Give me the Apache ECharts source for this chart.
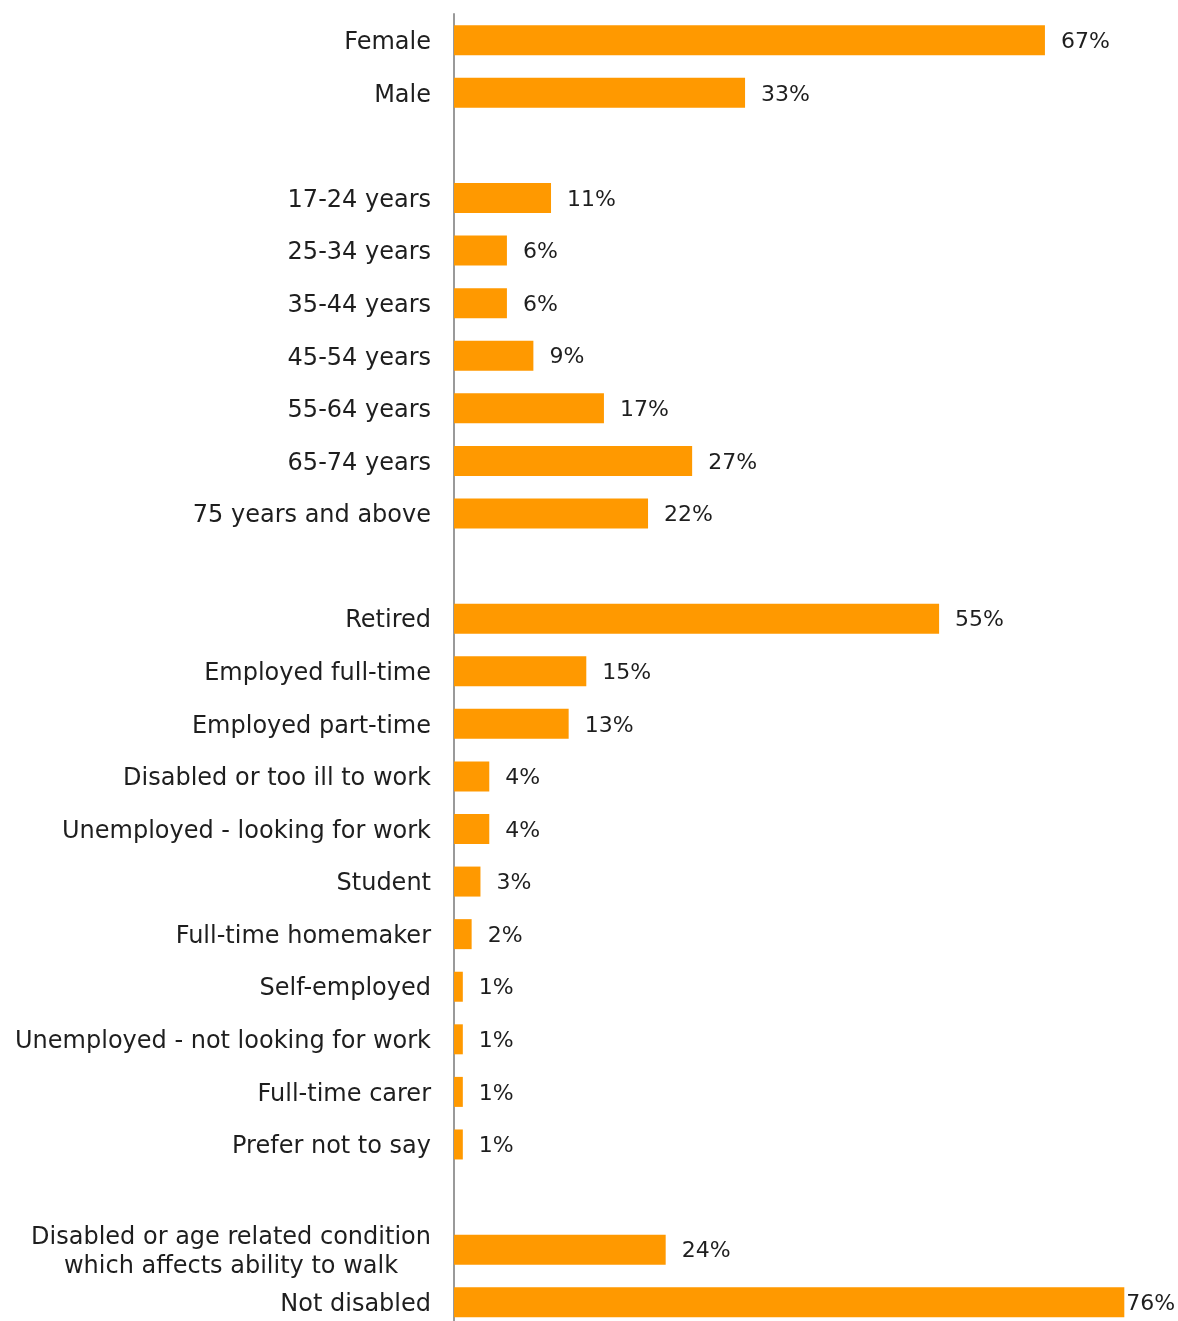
<!DOCTYPE html>
<html>
<head>
<meta charset="utf-8">
<title>Respondent profile</title>
<script src="https://cdn.jsdelivr.net/npm/echarts@6/dist/echarts.min.js"></script>
<style>
  html, body { margin: 0; padding: 0; background: #fff; overflow: hidden; }
  #chart { width: 1178px; height: 1332px; }
</style>
</head>
<body>
<div id="chart"></div>
<script>
// Profile groups; empty strings are spacer rows between the groups
const categories = [
  'Female', 'Male',
  '',
  '17-24 years', '25-34 years', '35-44 years', '45-54 years', '55-64 years', '65-74 years', '75 years and above',
  '',
  'Retired', 'Employed full-time', 'Employed part-time', 'Disabled or too ill to work',
  'Unemployed - looking for work', 'Student', 'Full-time homemaker', 'Self-employed',
  'Unemployed - not looking for work', 'Full-time carer', 'Prefer not to say',
  '',
  'Disabled or age related condition\nwhich affects ability to walk', 'Not disabled'
];

// Share of respondents, percent
const percentages = [
  67, 33,
  null,
  11, 6, 6, 9, 17, 27, 22,
  null,
  55, 15, 13, 4, 4, 3, 2, 1, 1, 1, 1,
  null,
  24, 76
];

const FONT = '"DejaVu Sans", Verdana, sans-serif';
const LABEL_SIZE = 24;
const VALUE_SIZE = 22;

// width of the longest line of a wrapped label, so its lines can be centred in one box
function textWidth(str, size) {
  const ctx = document.createElement('canvas').getContext('2d');
  ctx.font = size + 'px ' + FONT;
  return Math.ceil(ctx.measureText(str).width);
}
const wrapWidth = Math.max(...categories
  .filter(c => c.includes('\n'))
  .flatMap(c => c.split('\n'))
  .map(l => textWidth(l, LABEL_SIZE)), 1);

const maxValue = Math.max(...percentages.filter(p => p !== null));
const barData = percentages.map(v => {
  if (v === null) return null;
  // the widest bar reaches the edge, so its label hugs the bar end
  if (v === maxValue) return { value: v, label: { distance: 2 } };
  return v;
});

const chart = echarts.init(document.getElementById('chart'), null, { renderer: 'canvas' });

chart.setOption({
  animation: false,
  backgroundColor: '#ffffff',
  grid: {
    left: 454,
    top: 14,
    width: 705.6,
    height: 1314.5,
    containLabel: false
  },
  xAxis: {
    type: 'value',
    min: 0,
    max: 80,
    show: false
  },
  yAxis: {
    type: 'category',
    inverse: true,
    data: categories,
    axisLine: { show: true, lineStyle: { color: '#9a9a9a', width: 2 } },
    axisTick: { show: false },
    splitLine: { show: false },
    axisLabel: {
      margin: 23,
      interval: 0,
      padding: [5, 0, 0, 0],
      fontFamily: FONT,
      fontSize: LABEL_SIZE,
      color: '#1e1e1e',
      lineHeight: 29,
      formatter: function (value) {
        if (value.indexOf('\n') < 0) return value;
        return value.split('\n').map(l => '{c|' + l + '}').join('\n');
      },
      rich: {
        c: {
          width: wrapWidth,
          align: 'center',
          fontFamily: FONT,
          fontSize: LABEL_SIZE,
          color: '#1e1e1e',
          lineHeight: 29
        }
      }
    }
  },
  series: [{
    type: 'bar',
    data: barData,
    barWidth: 30,
    itemStyle: { color: '#ff9900' },
    label: {
      show: true,
      position: 'right',
      distance: 16,
      offset: [0, 2],
      formatter: '{c}%',
      fontFamily: FONT,
      fontSize: VALUE_SIZE,
      color: '#1e1e1e'
    }
  }]
});
</script>
</body>
</html>
